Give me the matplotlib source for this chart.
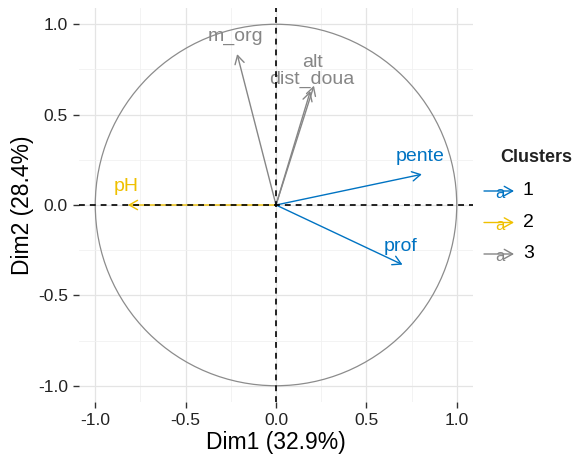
import numpy as np
import matplotlib
matplotlib.use("Agg")
import matplotlib.pyplot as plt
from matplotlib.patches import Circle

plt.rcParams["font.family"] = ["Liberation Sans", "DejaVu Sans"]

# Variable coordinates on the first two dimensions
variables = ["m_org", "alt", "dist_doua", "pente", "prof", "pH"]
dim1 = [-0.215, 0.21, 0.19, 0.807, 0.70, -0.82]
dim2 = [0.835, 0.66, 0.63, 0.17, -0.33, 0.0]
cluster = [3, 3, 3, 1, 1, 2]

cluster_ids = [1, 2, 3]
cluster_colors = {1: "#0073C2", 2: "#EFC000", 3: "#868686"}

# label offsets (points) from the arrow tips
default_offset = (-1.5, 13)
nudge = {"alt": (-1, 17), "dist_doua": (1, 8.5)}

fig = plt.figure(figsize=(5.81, 4.59), dpi=100)
ax = fig.add_axes([79 / 581, 1 - 402 / 459, 394 / 581, 394 / 459])

ax.set_xlim(-1.09, 1.09)
ax.set_ylim(-1.09, 1.09)
ax.set_aspect("equal", adjustable="box")

# grid
ticks = [-1.0, -0.5, 0.0, 0.5, 1.0]
minor = [-0.75, -0.25, 0.25, 0.75]
ax.set_xticks(ticks)
ax.set_yticks(ticks)
ax.set_xticks(minor, minor=True)
ax.set_yticks(minor, minor=True)
ax.grid(which="major", color="#E4E4E4", lw=0.9, zorder=0)
ax.grid(which="minor", color="#F1F1F1", lw=0.6, zorder=0)
ax.set_axisbelow(True)
for s in ax.spines.values():
    s.set_visible(False)
ax.tick_params(which="major", length=4, width=1, color="#333333", pad=4,
               labelsize=12.5, labelcolor="#222222")
ax.tick_params(which="minor", length=0)
ax.set_xticklabels([f"{t:.1f}" for t in ticks])
ax.set_yticklabels([f"{t:.1f}" for t in ticks])

# correlation circle
ax.add_patch(Circle((0, 0), 1.0, fill=False, color="#8C8C8C", lw=0.9, zorder=1))

# variable arrows and labels
for name, x, y, k in zip(variables, dim1, dim2, cluster):
    c = cluster_colors[k]
    ax.annotate("", xy=(x, y), xytext=(0, 0),
                arrowprops=dict(arrowstyle="->,head_length=0.5,head_width=0.28",
                                mutation_scale=12, color=c, lw=1.0,
                                shrinkA=0, shrinkB=0), zorder=2)
    dx, dy = nudge.get(name, default_offset)
    ax.annotate(name, xy=(x, y), xytext=(dx, dy), textcoords="offset points",
                ha="center", va="center", color=c, fontsize=14, zorder=3)

# reference lines through the origin
ax.axhline(0, color="black", lw=1.2, ls=(0, (3.5, 3)), zorder=4)
ax.axvline(0, color="black", lw=1.2, ls=(0, (3.5, 3)), zorder=4)

ax.set_xlabel("Dim1 (32.9%)", fontsize=16.5, labelpad=2)
ax.set_ylabel("Dim2 (28.4%)", fontsize=16.5, labelpad=3)

# legend
fig.text(500 / 581, 1 - 157 / 459, "Clusters", fontsize=13, fontweight="bold",
         ha="left", va="center", color="#222222")
for i, k in enumerate(cluster_ids):
    yk = 1 - (191 + i * 31.5) / 459
    c = cluster_colors[k]
    ax.annotate("", xy=(514 / 581, yk), xytext=(484 / 581, yk),
                xycoords="figure fraction", textcoords="figure fraction",
                arrowprops=dict(arrowstyle="->,head_length=0.5,head_width=0.28",
                                mutation_scale=12, color=c, lw=1.0,
                                shrinkA=0, shrinkB=0), annotation_clip=False)
    fig.text(500 / 581, yk - 0.006, "a", color=c, fontsize=12, ha="center", va="center")
    fig.text(523 / 581, yk, str(k), fontsize=14, ha="left", va="center", color="black")

fig.savefig("out.png", dpi=100)
